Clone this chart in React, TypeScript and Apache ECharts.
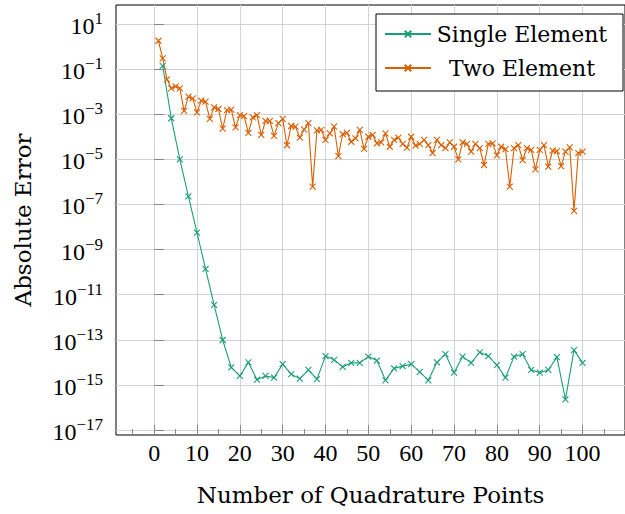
import React, { useEffect, useRef } from 'react';
import * as echarts from 'echarts';

// Number of quadrature points (x) and absolute error (y)
const singleN = [2, 4, 6, 8, 10, 12, 14, 16, 18, 20, 22, 24, 26, 28, 30, 32, 34, 36, 38, 40, 42, 44, 46, 48, 50,
  52, 54, 56, 58, 60, 62, 64, 66, 68, 70, 72, 74, 76, 78, 80, 82, 84, 86, 88, 90, 92, 94, 96, 98, 100];
const singleErr = [1.4e-1, 6.6e-4, 1.0e-5, 2.3e-7, 5.6e-9, 1.4e-10, 3.5e-12, 9.8e-14, 6.0e-15, 2.5e-15,
  1.0e-14, 1.7e-15, 2.5e-15, 2.1e-15, 8.3e-15, 3.0e-15, 1.9e-15, 4.6e-15, 1.8e-15, 1.9e-14,
  1.3e-14, 6.3e-15, 9.5e-15, 9.5e-15, 1.8e-14, 1.2e-14, 1.6e-15, 5.4e-15, 6.8e-15, 8.3e-15,
  3.8e-15, 1.6e-15, 1.0e-14, 2.3e-14, 3.5e-15, 1.8e-14, 9.5e-15, 2.8e-14, 1.9e-14, 7.6e-15,
  2.1e-15, 1.8e-14, 2.3e-14, 4.6e-15, 3.5e-15, 4.6e-15, 1.7e-14, 2.3e-16, 3.5e-14, 9.5e-15];

const twoN = [1, 2, 3, 4, 5, 6, 7, 8, 9, 10, 11, 12, 13, 14, 15, 16, 17, 18, 19, 20, 21, 22, 23, 24, 25,
  26, 27, 28, 29, 30, 31, 32, 33, 34, 35, 36, 37, 38, 39, 40, 41, 42, 43, 44, 45, 46, 47, 48, 49, 50,
  51, 52, 53, 54, 55, 56, 57, 58, 59, 60, 61, 62, 63, 64, 65, 66, 67, 68, 69, 70, 71, 72, 73, 74, 75,
  76, 77, 78, 79, 80, 81, 82, 83, 84, 85, 86, 87, 88, 89, 90, 91, 92, 93, 94, 95, 96, 97, 98, 99, 100];
const twoErr = [1.8, 3.0e-1, 3.5e-2, 1.4e-2, 1.7e-2, 1.4e-2, 1.4e-3, 6.0e-3, 5.0e-3, 1.2e-3,
  4.0e-3, 3.6e-3, 6.2e-4, 2.0e-3, 1.7e-3, 2.3e-4, 1.5e-3, 1.6e-3, 2.6e-4, 9.1e-4,
  8.3e-4, 1.5e-4, 7.2e-4, 9.1e-4, 1.2e-4, 5.1e-4, 5.0e-4, 1.1e-4, 4.0e-4, 6.2e-4,
  4.2e-5, 3.0e-4, 2.8e-4, 9.1e-5, 2.1e-4, 4.0e-4, 6.2e-7, 1.9e-4, 2.0e-4, 7.2e-5,
  1.4e-4, 2.8e-4, 1.4e-5, 1.3e-4, 1.5e-4, 6.0e-5, 8.5e-5, 2.0e-4, 2.9e-5, 1.0e-4,
  1.2e-4, 5.1e-5, 5.6e-5, 1.4e-4, 3.6e-5, 7.2e-5, 9.1e-5, 4.8e-5, 3.3e-5, 1.0e-4,
  4.0e-5, 4.8e-5, 7.2e-5, 4.3e-5, 1.9e-5, 7.2e-5, 4.3e-5, 3.1e-5, 5.6e-5, 3.6e-5,
  1.0e-5, 5.6e-5, 4.8e-5, 2.2e-5, 4.8e-5, 3.1e-5, 5.6e-6, 4.8e-5, 5.1e-5, 1.5e-5,
  3.6e-5, 2.8e-5, 6.2e-7, 3.1e-5, 4.3e-5, 9.3e-6, 3.1e-5, 2.6e-5, 3.6e-6, 2.6e-5,
  4.3e-5, 4.7e-6, 2.4e-5, 2.3e-5, 5.0e-6, 2.2e-5, 3.4e-5, 5.2e-8, 1.9e-5, 2.2e-5];

const xTickValues = [0, 10, 20, 30, 40, 50, 60, 70, 80, 90, 100];
const xMinorTickValues = [-5, 5, 15, 25, 35, 45, 55, 65, 75, 85, 95, 105];
const yTickExponents = [-17, -15, -13, -11, -9, -7, -5, -3, -1, 1];

const seriesNames = ['Single Element', 'Two Element'];
const xTitle = 'Number of Quadrature Points';
const yTitle = 'Absolute Error';

const GREEN = '#1b9e77';
const ORANGE = '#d95f02';
const NUM_FONT = '"Liberation Serif", "Times New Roman", serif';
const TXT_FONT = '"DejaVu Serif", serif';
const X_MARK = 'path://M0,0L10,10M10,0L0,10';

export default function App() {
  const ref = useRef<HTMLDivElement>(null);

  useEffect(() => {
    if (!ref.current) return;
    const chart = echarts.init(ref.current, null, { renderer: 'svg' });
    const xMin = -8.9;
    const xMax = 109.9;
    const yTickValues = yTickExponents.map((e) => Math.pow(10, e));
    const supText = (e: number) => (e < 0 ? '\u2212' + String(-e) : String(e));

    const option: any = {
      animation: false,
      backgroundColor: '#ffffff',
      grid: {
        left: 116,
        top: 5,
        width: 518,
        height: 430,
        show: true,
        borderColor: '#000',
        borderWidth: 1,
        backgroundColor: 'transparent',
      },
      legend: {
        orient: 'vertical',
        left: 376,
        top: 14,
        padding: [9, 15, 12, 8],
        itemGap: 12,
        itemWidth: 46,
        itemHeight: 8,
        backgroundColor: '#fff',
        borderColor: '#000',
        borderWidth: 1,
        borderRadius: 0,
        data: seriesNames,
        formatter: (name: string) => `{t|${name}}`,
        textStyle: {
          rich: {
            t: { width: 172, align: 'center', fontFamily: TXT_FONT, fontSize: 22, lineHeight: 28, color: '#000' },
          },
        },
      },
      xAxis: [
        {
          type: 'value',
          min: xMin,
          max: xMax,
          position: 'bottom',
          name: xTitle,
          nameLocation: 'middle',
          nameGap: 48,
          nameTextStyle: { fontFamily: TXT_FONT, fontSize: 23, color: '#000' },
          axisLine: { show: false },
          axisTick: { show: true, inside: true, length: 10, customValues: xTickValues, lineStyle: { color: '#888', width: 1 } },
          axisLabel: { customValues: xTickValues, fontFamily: NUM_FONT, fontSize: 24, color: '#000', margin: 6 },
          splitLine: { show: true, lineStyle: { color: '#d3d3d3', width: 1 } },
        },
        {
          type: 'value',
          min: xMin,
          max: xMax,
          position: 'bottom',
          axisLine: { show: false },
          axisTick: { show: true, inside: true, length: 6, customValues: xMinorTickValues, lineStyle: { color: '#888', width: 1 } },
          axisLabel: { show: false },
          splitLine: { show: false },
        },
      ],
      yAxis: {
        type: 'log',
        logBase: 10,
        min: Math.pow(10, -17.22),
        max: Math.pow(10, 1.84),
        name: yTitle,
        nameLocation: 'middle',
        nameRotate: 90,
        nameGap: 82,
        nameTextStyle: { fontFamily: TXT_FONT, fontSize: 23, color: '#000' },
        axisLine: { show: false },
        axisTick: { show: true, inside: true, length: 10, customValues: yTickValues, lineStyle: { color: '#888', width: 1 } },
        axisLabel: {
          customValues: yTickValues,
          margin: 13,
          formatter: (v: number) => {
            const e = Math.round(Math.log10(v));
            return `{b|10}{s|${supText(e)}}`;
          },
          rich: {
            b: { fontFamily: NUM_FONT, fontSize: 24, lineHeight: 28, verticalAlign: 'bottom', color: '#000' },
            s: { fontFamily: NUM_FONT, fontSize: 17, lineHeight: 17, verticalAlign: 'top', color: '#000' },
          },
        },
        splitLine: { show: true, lineStyle: { color: '#d3d3d3', width: 1 } },
      },
      series: [
        {
          name: seriesNames[0],
          type: 'line',
          xAxisIndex: 0,
          data: singleN.map((n, i) => [n, singleErr[i]]),
          symbol: X_MARK,
          symbolSize: 6,
          showAllSymbol: true,
          lineStyle: { color: GREEN, width: 1.1 },
          itemStyle: { color: GREEN, borderColor: GREEN, borderWidth: 1.1 },
          emphasis: { disabled: true },
        },
        {
          name: seriesNames[1],
          type: 'line',
          xAxisIndex: 0,
          data: twoN.map((n, i) => [n, twoErr[i]]),
          symbol: X_MARK,
          symbolSize: 6,
          showAllSymbol: true,
          lineStyle: { color: ORANGE, width: 1.1 },
          itemStyle: { color: ORANGE, borderColor: ORANGE, borderWidth: 1.1 },
          emphasis: { disabled: true },
        },
      ],
    };
    chart.setOption(option);
    return () => chart.dispose();
  }, []);

  return (
    <div
      ref={ref}
      style={{ position: 'absolute', left: 0, top: 0, width: 625, height: 514, background: '#fff' }}
    />
  );
}
